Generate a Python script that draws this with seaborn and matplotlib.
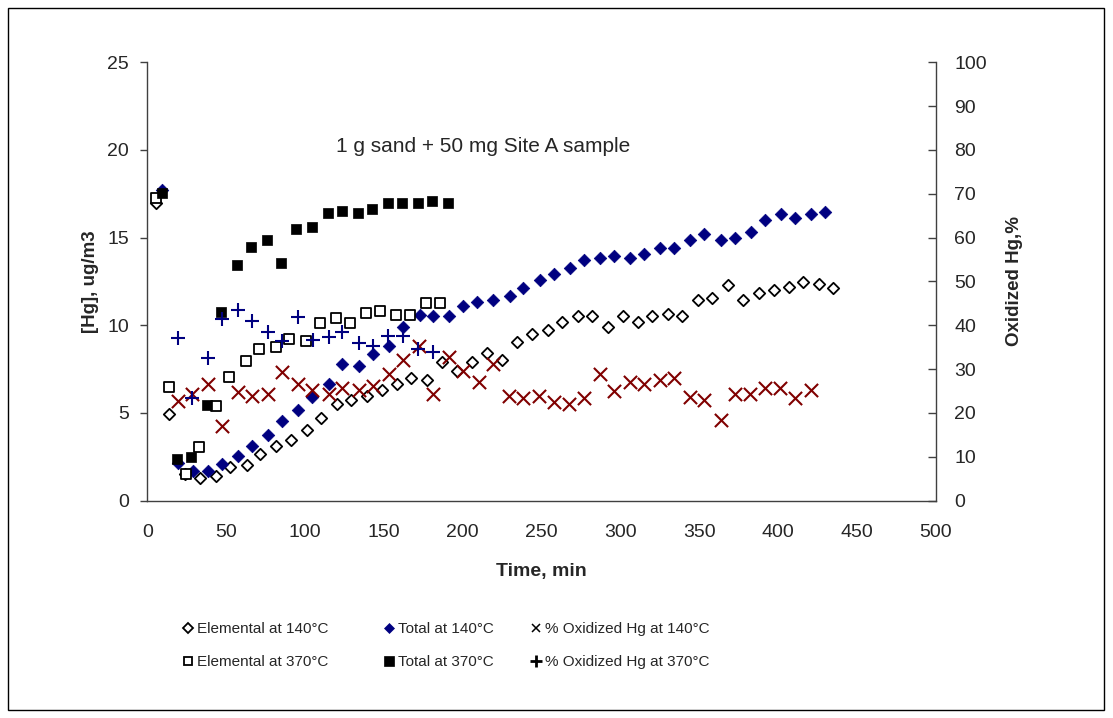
import numpy as np
import pandas as pd
import matplotlib
matplotlib.use("Agg")
import matplotlib.pyplot as plt
from matplotlib.lines import Line2D
from matplotlib.patches import Rectangle
import seaborn as sns

# ---- data -------------------------------------------------------------
# 140 °C run: elemental Hg (ug/m3)
t_elem_140 = [5.5, 13.9, 23.9, 33.6, 43.4, 52.7, 63.0, 71.5, 81.8, 91.1, 101.1,
              110.0, 120.1, 129.0, 139.1, 148.6, 158.5, 167.2, 177.5, 186.7,
              196.2, 205.7, 215.6, 224.7, 234.6, 243.7, 253.9, 263.2, 273.3,
              282.2, 292.0, 301.5, 311.2, 320.2, 330.4, 339.2, 349.4, 358.3,
              368.4, 377.5, 387.5, 397.0, 407.0, 416.0, 426.0, 435.0]
elem_140 = [16.98, 4.91, 1.50, 1.28, 1.37, 1.92, 2.05, 2.64, 3.10, 3.47, 4.00,
            4.72, 5.48, 5.75, 5.94, 6.32, 6.62, 7.00, 6.89, 7.93,
            7.38, 7.93, 8.42, 8.02, 9.02, 9.50, 9.73, 10.16, 10.54,
            10.54, 9.88, 10.54, 10.16, 10.54, 10.64, 10.54, 11.45, 11.58,
            12.28, 11.45, 11.81, 12.02, 12.19, 12.49, 12.38, 12.15]

# 140 °C run: total Hg (ug/m3)
t_total_140 = [9.1, 19.7, 28.8, 38.7, 47.6, 57.7, 66.6, 76.7, 85.6, 95.8, 104.6,
               115.2, 123.7, 134.2, 143.3, 153.3, 162.3, 172.9, 181.4, 191.5,
               200.0, 208.9, 219.4, 230.0, 238.4, 249.0, 257.9, 268.0, 276.9,
               287.0, 296.1, 306.1, 315.0, 325.1, 334.0, 344.1, 353.2, 363.6,
               372.7, 382.6, 391.7, 401.8, 410.7, 420.9, 429.8]
total_140 = [17.74, 2.15, 1.71, 1.71, 2.07, 2.55, 3.10, 3.76, 4.52, 5.18, 5.90,
             6.66, 7.80, 7.68, 8.36, 8.84, 9.88, 10.60, 10.54, 10.54,
             11.11, 11.35, 11.45, 11.68, 12.15, 12.59, 12.91, 13.25, 13.72,
             13.82, 13.95, 13.82, 14.08, 14.42, 14.42, 14.86, 15.22, 14.86,
             14.95, 15.33, 15.99, 16.37, 16.13, 16.37, 16.47]

# 140 °C run: oxidized fraction (%)
t_ox_140 = [19.3, 28.5, 38.7, 47.6, 57.7, 66.6, 76.7, 85.6, 95.8, 104.6, 115.2,
            123.7, 134.2, 142.9, 153.3, 162.3, 172.5, 181.4, 191.5, 200.0,
            210.5, 219.4, 229.6, 238.4, 248.6, 257.9, 267.6, 276.9, 287.0,
            296.0, 306.1, 315.0, 325.1, 334.0, 344.1, 353.2, 363.6, 372.7,
            382.2, 391.7, 401.2, 410.7, 420.7]
ox_140 = [22.6, 24.2, 26.6, 17.0, 24.7, 23.8, 24.4, 29.4, 26.6, 25.3, 24.4,
          25.7, 25.3, 26.2, 28.9, 32.1, 35.3, 24.4, 32.7, 29.5,
          27.0, 31.2, 23.8, 23.4, 23.9, 22.5, 22.1, 23.4, 28.9,
          24.9, 27.0, 26.6, 27.5, 28.0, 23.6, 23.0, 18.4, 24.4,
          24.4, 25.7, 25.7, 23.5, 25.3]

# 370 °C run: elemental Hg (ug/m3)
t_elem_370 = [5.5, 13.9, 24.3, 32.8, 43.4, 51.8, 62.4, 70.8, 81.4, 89.9, 100.4,
              109.3, 119.4, 128.3, 138.4, 147.4, 157.5, 166.4, 176.7, 185.6]
elem_370 = [17.26, 6.49, 1.50, 3.04, 5.41, 7.03, 7.98, 8.63, 8.78, 9.21, 9.10,
            10.14, 10.39, 10.14, 10.71, 10.82, 10.60, 10.60, 11.28, 11.28]

# 370 °C run: total Hg (ug/m3)
t_total_370 = [9.1, 18.6, 27.7, 38.1, 46.7, 57.1, 65.8, 75.9, 84.8, 94.3, 104.2,
               114.4, 123.3, 133.4, 142.5, 152.6, 161.5, 171.5, 180.5, 190.7]
total_370 = [17.55, 2.38, 2.49, 5.43, 10.78, 13.44, 14.46, 14.84, 13.53, 15.50,
             15.61, 16.41, 16.52, 16.41, 16.64, 16.98, 16.98, 16.98, 17.11, 16.98]

# 370 °C run: oxidized fraction (%)
t_ox_370 = [19.3, 28.5, 38.3, 47.6, 57.7, 66.6, 76.7, 85.6, 95.8, 105.3, 115.0,
            123.7, 134.2, 143.3, 152.8, 162.3, 171.9, 181.4]
ox_370 = [37.0, 23.5, 32.5, 41.5, 43.5, 41.0, 38.5, 36.3, 41.8, 36.6, 37.2,
          38.5, 35.9, 35.3, 37.6, 37.6, 34.6, 34.0]

x_ticks = [0, 50, 100, 150, 200, 250, 300, 350, 400, 450, 500]
left_ticks = [0, 5, 10, 15, 20, 25]
right_ticks = [0, 10, 20, 30, 40, 50, 60, 70, 80, 90, 100]

NAVY = "#000080"
MAROON = "#800000"

# ---- style ------------------------------------------------------------
sns.set_style("white")
plt.rcParams["font.family"] = ["Liberation Sans", "DejaVu Sans"]
plt.rcParams["axes.linewidth"] = 1.0

W, H = 1113, 718
fig = plt.figure(figsize=(W / 100, H / 100), dpi=100)
ax = fig.add_axes([147.3 / W, 1 - 500.5 / H, (936 - 147.3) / W, (500.5 - 62.3) / H])
ax2 = ax.twinx()

# outer chart border
fig.patches.append(Rectangle((8 / W, 8 / H), (1104 - 8) / W, (710 - 8) / H,
                             transform=fig.transFigure, fill=False,
                             edgecolor="black", linewidth=1.0))

def series(t, v):
    return pd.DataFrame({"t": t, "v": v})

# concentrations on the left axis
sns.scatterplot(data=series(t_elem_140, elem_140), x="t", y="v", ax=ax,
                marker="D", s=5.8 ** 2, facecolor="white", edgecolor="black",
                linewidth=1.3, zorder=3)
sns.scatterplot(data=series(t_total_140, total_140), x="t", y="v", ax=ax,
                marker="D", s=6.4 ** 2, color=NAVY, edgecolor=NAVY,
                linewidth=0.5, zorder=3)
sns.scatterplot(data=series(t_elem_370, elem_370), x="t", y="v", ax=ax,
                marker="s", s=7.0 ** 2, facecolor="white", edgecolor="black",
                linewidth=1.3, zorder=3)
sns.scatterplot(data=series(t_total_370, total_370), x="t", y="v", ax=ax,
                marker="s", s=7.6 ** 2, color="black", edgecolor="black",
                linewidth=0.5, zorder=3)

# oxidized fractions on the right axis
sns.scatterplot(data=series(t_ox_140, ox_140), x="t", y="v", ax=ax2,
                marker="x", s=9.5 ** 2, color=MAROON, linewidth=1.5, zorder=3)
sns.scatterplot(data=series(t_ox_370, ox_370), x="t", y="v", ax=ax2,
                marker="+", s=9.5 ** 2, color=NAVY, linewidth=1.5, zorder=3)

# axes
AXC = "#404040"
ax.set_xlim(0, 500)
ax.set_ylim(0, 25)
ax2.set_ylim(0, 100)
ax.set_xticks(x_ticks)
ax.set_yticks(left_ticks)
ax2.set_yticks(right_ticks)
for a in (ax, ax2):
    for s in a.spines.values():
        s.set_visible(False)
ax.spines["left"].set_visible(True)
ax.spines["bottom"].set_visible(True)
ax2.spines["right"].set_visible(True)
for s in (ax.spines["left"], ax.spines["bottom"], ax2.spines["right"]):
    s.set_color(AXC)
    s.set_linewidth(1.0)

ax.tick_params(axis="x", direction="out", length=5, width=1, color=AXC,
               labelsize=14, pad=12)
ax.tick_params(axis="y", direction="out", length=5, width=1, color=AXC,
               labelsize=14, pad=8)
ax2.tick_params(axis="y", direction="in", length=6, width=1, color=AXC,
                labelsize=14, pad=13)
ax.grid(False)
ax2.grid(False)

ax.set_xlabel("Time, min", fontsize=14, fontweight="bold", labelpad=16)
ax.set_ylabel("[Hg], ug/m3", fontsize=13.5, fontweight="bold", labelpad=6)
ax2.set_ylabel("Oxidized Hg,%", fontsize=13.5, fontweight="bold", labelpad=14)

ax.text(483 / W, 1 - 147 / H, "1 g sand + 50 mg Site A sample",
        transform=fig.transFigure, ha="center", va="center", fontsize=15)

# legend: three columns of two entries
def handle(marker, face, edge, ms, mew):
    return Line2D([], [], linestyle="none", marker=marker, markersize=ms,
                  markerfacecolor=face, markeredgecolor=edge, markeredgewidth=mew)

cols = [
    ([handle("D", "white", "black", 5.0, 1.3), handle("s", "white", "black", 6.0, 1.3)],
     ["Elemental at 140°C", "Elemental at 370°C"], 188),
    ([handle("D", NAVY, NAVY, 5.5, 0.5), handle("s", "black", "black", 6.5, 0.5)],
     ["Total at 140°C", "Total at 370°C"], 389),
    ([handle("x", MAROON, "black", 6.0, 1.1), handle("+", NAVY, "black", 8.0, 2.0)],
     ["% Oxidized Hg at 140°C", "% Oxidized Hg at 370°C"], 536),
]
legend_fs = 11
hl = 0.6
for hs, labels, mx in cols:
    left = mx - hl * legend_fs * 100 / 72 / 2
    fig.legend(hs, labels, loc="center left", bbox_to_anchor=(left / W, 1 - 645.5 / H),
               frameon=False, prop={"family": "Liberation Sans", "size": legend_fs},
               handlelength=hl, handletextpad=0.3,
               labelspacing=1.25, borderpad=0, borderaxespad=0)

fig.savefig("out.png", dpi=100, facecolor="white")
